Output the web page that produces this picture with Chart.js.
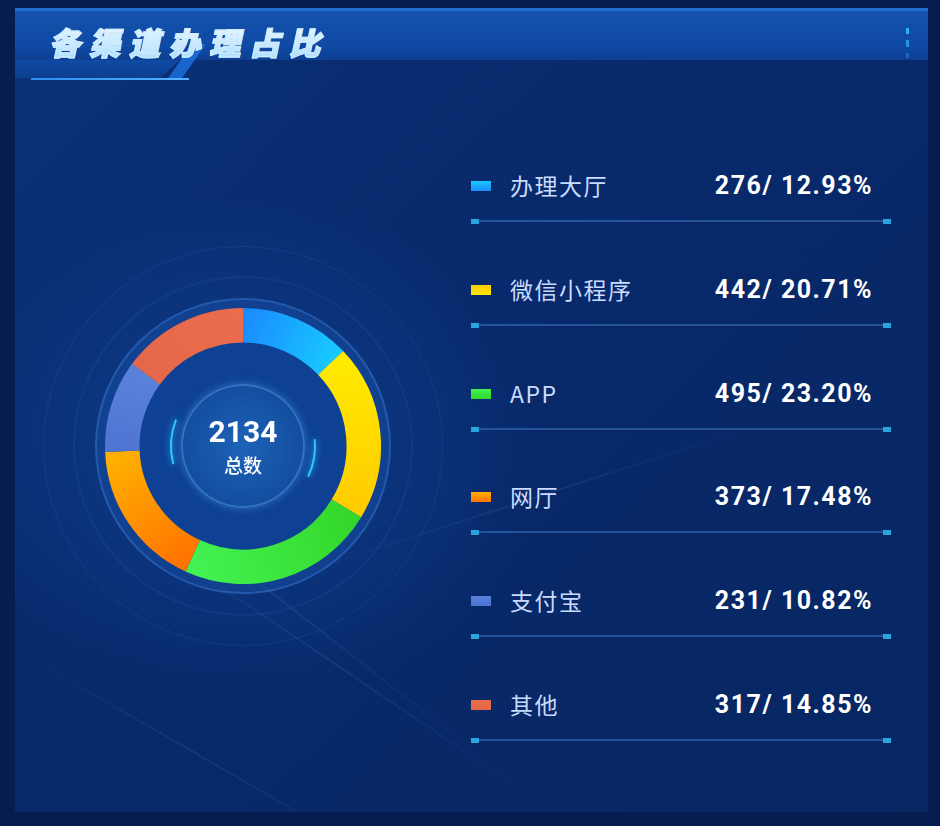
<!DOCTYPE html>
<html>
<head>
<meta charset="utf-8">
<script src="https://cdn.jsdelivr.net/npm/chart.js@4.4.0/dist/chart.umd.min.js"></script>
<style>
  html, body { margin: 0; padding: 0; }
  body {
    width: 940px; height: 826px; overflow: hidden; position: relative;
    background: #061d52;
    font-family: "Noto Sans CJK SC", "Noto Sans", sans-serif;
  }
  .panel {
    position: absolute; left: 15px; top: 8px; width: 913px; height: 804px;
    background:
      radial-gradient(ellipse 420px 360px at 230px 440px, rgba(20,80,170,0.55), rgba(20,80,170,0) 70%),
      linear-gradient(135deg, #0b3177 0%, #08296b 45%, #072662 100%);
    overflow: hidden;
  }
  .streak {
    position: absolute; height: 2px; background: linear-gradient(90deg, rgba(90,150,230,0), rgba(90,150,230,0.13), rgba(90,150,230,0));
    transform-origin: left center;
  }
  .titlebar {
    position: absolute; left: 15px; top: 8px; width: 913px; height: 52px;
    background: linear-gradient(180deg, #1452ac 0%, #0f4aa5 70%, #0d3f92 100%);
    border-top: 3px solid #1f6ed0;
    box-sizing: border-box;
  }
  .titletab {
    position: absolute; left: 15px; top: 60px; width: 165px; height: 18px;
    background: linear-gradient(180deg, #0f4aa5, #0c3e8e);
    clip-path: polygon(0 0, 100% 0, 88% 100%, 0 100%);
  }
  .slant {
    position: absolute; left: 180px; top: 44px; width: 14px; height: 34px;
    background: #1a72e0; transform: skewX(-35deg); opacity: 0.8;
  }
  .underline {
    position: absolute; left: 31px; top: 78px; width: 158px; height: 2px;
    background: linear-gradient(90deg, #2f8cf0, #54b0ff);
  }
  .title {
    position: absolute; left: 52px; top: 20px;
    font-size: 31px; font-weight: 900; letter-spacing: 9px; line-height: 44px;
    transform: skewX(-12deg);
    background: linear-gradient(180deg, #f2fbff 0%, #a6dbff 100%);
    -webkit-background-clip: text; background-clip: text; color: transparent;
    -webkit-text-stroke: 1.4px rgba(205,236,255,0.85);
  }
  .dot { position: absolute; left: 906px; width: 3px; background: #2fb0ff; }
  .ring { position: absolute; border-radius: 50%; box-sizing: border-box; }
  #chartBox { position: absolute; left: 105px; top: 308px; width: 276px; height: 276px; }
  .center-num {
    position: absolute; left: 143px; width: 200px; top: 415px; text-align: center;
    color: #ffffff; font-family: "Roboto", sans-serif; font-weight: 700; font-size: 30px; line-height: 34px;
  }
  .center-lbl {
    position: absolute; left: 143px; width: 200px; top: 452px; text-align: center;
    color: #ffffff; font-size: 19px; font-weight: 500; line-height: 26px;
  }
  .row { position: absolute; left: 471px; width: 420px; height: 60px; }
  .sw { position: absolute; left: 0; top: -5px; width: 20px; height: 10px; }
  .lbl {
    position: absolute; left: 39px; top: -17px; font-size: 23px; line-height: 32px; color: #c9dbff; letter-spacing: 1.5px;
  }
  .val {
    position: absolute; right: 18px; top: -15px; font-size: 25px; line-height: 30px;
    color: #ffffff; font-family: "Roboto", sans-serif; font-weight: 700; letter-spacing: 1.5px;
  }
  .sep { position: absolute; left: 0; top: 34px; width: 420px; height: 2px; background: #24539a; }
  .sep i { position: absolute; top: -1px; width: 8px; height: 5px; background: #2aa4df; }
</style>
</head>
<body>
<div class="panel" id="panel"></div>
<div class="titlebar"></div>
<div class="titletab"></div>
<div class="slant"></div>
<div class="underline"></div>
<div class="title">各渠道办理占比</div>
<div class="dot" style="top:28px;height:6px"></div>
<div class="dot" style="top:40px;height:7px;opacity:0.7"></div>
<div class="dot" style="top:53px;height:5px;opacity:0.35"></div>

<div class="ring" style="left:43px;top:246px;width:400px;height:400px;border:1px solid rgba(70,140,230,0.14)"></div>
<div class="ring" style="left:73px;top:276px;width:340px;height:340px;border:2px solid rgba(70,140,230,0.1)"></div>
<div class="ring" style="left:95px;top:298px;width:296px;height:296px;background:rgba(30,90,180,0.35);border:2px solid rgba(80,150,235,0.3)"></div>
<div class="ring" style="left:139px;top:342px;width:208px;height:208px;background:#0e4193"></div>
<div class="ring" style="left:181px;top:384px;width:124px;height:124px;background:radial-gradient(circle, #1d63b8 0%, #134e9f 70%, #1a5cb3 100%);box-shadow:0 0 8px rgba(90,170,255,0.45);border:2px solid rgba(110,180,255,0.35)"></div>
<div id="chartBox"><canvas id="donut"></canvas></div>
<div class="center-num" id="total"></div>
<div class="center-lbl">总数</div>
<div id="legend"></div>

<script>
const categories = ["办理大厅", "微信小程序", "APP", "网厅", "支付宝", "其他"];
const values = [276, 442, 495, 373, 231, 317];
const colorStart = ["#1a8cff", "#ffea00", "#35d82a", "#ff7400", "#4f74d2", "#e6684a"];
const colorEnd = ["#18c8ff", "#ffcc00", "#42f252", "#ffb000", "#5a82dc", "#ea6c4c"];

const total = values.reduce((a, b) => a + b, 0);

// background streaks
const panel = document.getElementById("panel");
[[60, 430, 520, 38], [120, 520, 480, 34], [0, 640, 420, 30], [300, 560, 460, -18]].forEach(([x, y, w, a]) => {
    const s = document.createElement("div");
    s.className = "streak";
    s.style.left = x + "px"; s.style.top = y + "px"; s.style.width = w + "px";
    s.style.transform = "rotate(" + a + "deg)";
    panel.appendChild(s);
});

document.getElementById("total").textContent = total;

function segGradient(context) {
    const chart = context.chart;
    const i = context.dataIndex;
    const area = chart.chartArea;
    if (!area) return colorStart[i];
    const cx = (area.left + area.right) / 2;
    const cy = (area.top + area.bottom) / 2;
    const r = Math.min(area.right - area.left, area.bottom - area.top) / 2 * 0.87;
    let before = 0;
    for (let k = 0; k < i; k++) before += values[k];
    const a0 = before / total * Math.PI * 2 - Math.PI / 2;
    const a1 = (before + values[i]) / total * Math.PI * 2 - Math.PI / 2;
    const g = chart.ctx.createLinearGradient(
        cx + r * Math.cos(a0), cy + r * Math.sin(a0),
        cx + r * Math.cos(a1), cy + r * Math.sin(a1));
    g.addColorStop(0, colorStart[i]);
    g.addColorStop(1, colorEnd[i]);
    return g;
}

// center arcs
const centerArcs = {
    id: "centerArcs",
    afterDraw(chart) {
        const {ctx, chartArea} = chart;
        const cx = (chartArea.left + chartArea.right) / 2;
        const cy = (chartArea.top + chartArea.bottom) / 2;
        ctx.save();
        ctx.strokeStyle = "#2fc6ff";
        ctx.lineWidth = 2;
        ctx.shadowColor = "#2fc6ff";
        ctx.shadowBlur = 6;
        ctx.beginPath();
        ctx.arc(cx, cy, 72, Math.PI * 0.92, Math.PI * 1.12);
        ctx.stroke();
        ctx.beginPath();
        ctx.arc(cx, cy, 72, Math.PI * 1.97, Math.PI * 2.14);
        ctx.stroke();
        ctx.restore();
    }
};

new Chart(document.getElementById("donut"), {
    type: "doughnut",
    data: {
        labels: categories,
        datasets: [{
            data: values,
            backgroundColor: segGradient,
            borderWidth: 0,
            hoverOffset: 0,
        }],
    },
    options: {
        responsive: true,
        maintainAspectRatio: false,
        animation: false,
        cutout: "75%",
        layout: {padding: 0},
        plugins: {legend: {display: false}, tooltip: {enabled: false}},
    },
    plugins: [centerArcs],
});

// legend list
const legend = document.getElementById("legend");
categories.forEach((name, i) => {
    const row = document.createElement("div");
    row.className = "row";
    row.style.top = (186 + i * 103.8) + "px";
    const pct = (values[i] / total * 100).toFixed(2);
    row.innerHTML =
        '<div class="sw" style="background:linear-gradient(180deg,' + colorEnd[i] + ',' + colorStart[i] + ')"></div>' +
        '<div class="lbl">' + name + '</div>' +
        '<div class="val">' + values[i] + '/ ' + pct + '%</div>' +
        '<div class="sep"><i style="left:0"></i><i style="right:0"></i></div>';
    legend.appendChild(row);
});
</script>
</body>
</html>
